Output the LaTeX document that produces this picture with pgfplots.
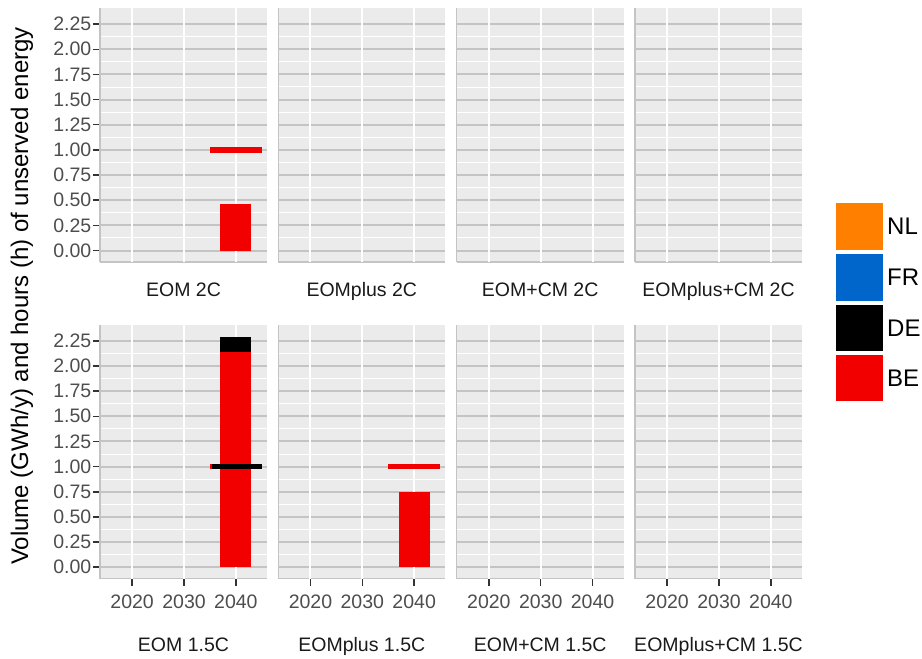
\documentclass[border=0pt]{standalone}
\usepackage{fontspec}
\setmainfont{Liberation Sans}
\usepackage{pgfplots}
\pgfplotsset{compat=1.18}
\definecolor{panelbg}{HTML}{EBEBEB}
\definecolor{gridgray}{HTML}{C4C4C4}
\definecolor{axisgray}{HTML}{C4C4C4}
\definecolor{tickdark}{HTML}{333333}
\definecolor{ticktext}{HTML}{4D4D4D}
\definecolor{stripk}{HTML}{1A1A1A}
\definecolor{BEred}{HTML}{F20000}
\definecolor{NLorange}{HTML}{FF7F00}
\definecolor{FRblue}{HTML}{0066CC}
\newcommand{\tickfont}{\fontsize{19.5}{22}\selectfont}
\pgfplotsset{
 panel/.style={
  scale only axis, width=167pt, height=254pt,
  xmin=2013.8, xmax=2046, ymin=-0.114, ymax=2.41,
  axis lines*=left, axis line style={draw=axisgray, line width=1.5pt, -},
  axis background/.style={fill=panelbg},
  tick align=outside, tick pos=left,
  major tick length=7pt, minor tick length=0pt,
  xtick style={draw=tickdark, line width=1.5pt},
  ytick style={draw=tickdark, line width=1.5pt},
  ytick={0,0.25,0.5,0.75,1,1.25,1.5,1.75,2,2.25}, minor y tick num=1,
  ymajorgrids, yminorgrids,
  major grid style={draw=gridgray, line width=2pt},
  minor grid style={draw=white, line width=1pt},
  extra x ticks={2020,2030,2040},
  extra x tick labels={},
  extra x tick style={grid=major, xtick style={draw=none}, major grid style={draw=white, line width=2pt}},
  /pgf/number format/assume math mode=true,
  yticklabel style={font=\tickfont, text=ticktext, /pgf/number format/fixed, /pgf/number format/fixed zerofill, /pgf/number format/precision=2, inner sep=1.5pt},
  xticklabel style={font=\tickfont, text=ticktext, yshift=-6pt},
  xlabel style={font=\tickfont, text=stripk, at={(axis description cs:0.5,0)}, anchor=base},
 },
 toprow/.style={xtick=\empty, xlabel style={yshift=-34.5pt}},
 botrow/.style={xtick={2020,2030,2040}, xticklabels={2020,2030,2040}, xlabel style={yshift=-73pt}},
 noy/.style={yticklabels={}, ytick style={draw=none}},
 barBE/.style={ybar, bar width=6, bar shift=0pt, fill=BEred, draw=none},
 barDE/.style={ybar, bar width=6, bar shift=0pt, fill=black, draw=none},
}
\begin{document}
\begin{tikzpicture}
\useasboundingbox (0pt,0pt) rectangle (922pt,-659pt);
% ---- top row ----
\begin{axis}[panel, toprow, at={(100pt,-8pt)}, anchor=north west, xlabel={EOM 2C}]
\addplot[barBE] coordinates {(2040,0.46)};
\addplot[draw=BEred, line width=5.5pt] coordinates {(2035,1) (2045,1)};
\end{axis}
\begin{axis}[panel, toprow, noy, at={(278.3pt,-8pt)}, anchor=north west, xlabel={EOMplus 2C}]
\end{axis}
\begin{axis}[panel, toprow, noy, at={(456.7pt,-8pt)}, anchor=north west, xlabel={EOM+CM 2C}]
\end{axis}
\begin{axis}[panel, toprow, noy, at={(635pt,-8pt)}, anchor=north west, xlabel={EOMplus+CM 2C}]
\end{axis}
% ---- bottom row ----
\begin{axis}[panel, botrow, at={(100pt,-324.7pt)}, anchor=north west, xlabel={EOM 1.5C}]
% DE stacked on BE: cumulative top 2.29, BE 2.14
\addplot[barDE] coordinates {(2040,2.29)};
\addplot[barBE] coordinates {(2040,2.14)};
\addplot[draw=BEred, line width=5.5pt] coordinates {(2035,1) (2045,1)};
\addplot[draw=black, line width=5.5pt] coordinates {(2035.3,1) (2045,1)};
\end{axis}
\begin{axis}[panel, botrow, noy, at={(278.3pt,-324.7pt)}, anchor=north west, xlabel={EOMplus 1.5C}]
\addplot[barBE] coordinates {(2040,0.75)};
\addplot[draw=BEred, line width=5.5pt] coordinates {(2035,1) (2045,1)};
\end{axis}
\begin{axis}[panel, botrow, noy, at={(456.7pt,-324.7pt)}, anchor=north west, xlabel={EOM+CM 1.5C}]
\end{axis}
\begin{axis}[panel, botrow, noy, at={(635pt,-324.7pt)}, anchor=north west, xlabel={EOMplus+CM 1.5C}]
\end{axis}
% ---- y label ----
\node[rotate=90, font=\fontsize{24}{28}\selectfont, text=black] at (22pt,-296pt) {Volume (GWh/y) and hours (h) of unserved energy};
% ---- legend ----
\fill[NLorange] (836pt,-203pt) rectangle (883pt,-250pt);
\fill[FRblue] (836pt,-254pt) rectangle (883pt,-300.5pt);
\fill[black] (836pt,-305pt) rectangle (883pt,-351pt);
\fill[BEred] (836pt,-355pt) rectangle (883pt,-401pt);
\begin{scope}[every node/.style={anchor=west, inner sep=0pt, font=\fontsize{24}{28}\selectfont, text=black}]
\node at (887pt,-226.5pt) {NL};
\node at (887pt,-277pt) {FR};
\node at (887pt,-328pt) {DE};
\node at (887pt,-378pt) {BE};
\end{scope}
\end{tikzpicture}
\end{document}
